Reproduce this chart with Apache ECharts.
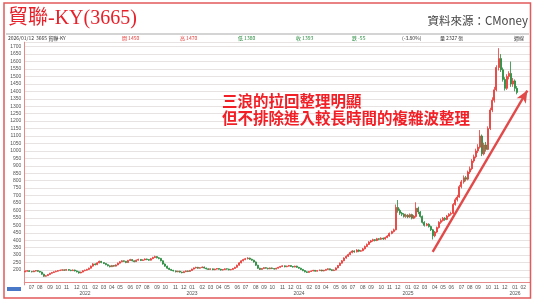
<!DOCTYPE html>
<html><head><meta charset="utf-8">
<script src="https://cdn.jsdelivr.net/npm/echarts@6/dist/echarts.min.js"></script>
<style>html,body{margin:0;padding:0;background:#fff}#c{width:539px;height:304px}</style>
</head><body><div id="c"></div>
<script>
// Weekly candles [open, close, low, high], first week starts 2021-06-14
const startWeek = '2021-06-14';
const k2021 = [
[188,192,185,197],[192,195,189,199],[195,190,187,198],[190,188,184,194],[188,193,186,196],[193,196,190,200],[196,191,188,199],[191,186,182,194],
[186,172,168,189],[172,158,154,175],[158,162,155,166],[162,170,160,173],[170,178,168,181],[178,183,175,187],[183,188,180,191],[188,192,185,196],
[192,196,189,199],[196,199,193,203],[199,201,195,205],[201,198,194,204],[198,203,196,207],[203,199,195,206],[199,196,192,202],[196,200,193,204],
[200,194,190,203],[194,188,184,197],[188,180,176,191],[180,186,178,189],[186,195,184,198]];
const k2022 = [
[195,199,192,203],[199,204,196,208],[204,212,201,216],[212,226,210,230],[226,241,223,246],[241,236,231,245],[236,248,233,252],[248,258,245,263],
[258,250,246,261],[250,244,240,253],[244,236,232,247],[236,228,224,239],[228,222,218,231],[222,230,220,234],[230,226,222,233],[226,234,224,238],
[234,246,232,250],[246,255,243,259],[255,262,252,266],[262,258,254,265],[258,250,246,261],[250,264,248,268],[264,270,261,275],[270,262,258,273],
[262,256,252,265],[256,266,254,270],[266,271,263,276],[271,264,260,274],[264,268,261,272],[268,274,265,278],[274,270,266,277],[270,266,262,273],
[266,276,264,281],[276,284,273,289],[284,290,280,296],[290,282,278,293],[282,278,272,286],[278,262,258,281],[262,240,236,265],[240,226,222,244],
[226,212,208,229],[212,204,200,215],[204,198,194,207],[198,194,190,201],[194,188,184,197],[188,192,185,195],[192,186,182,195],[186,182,178,189],
[182,189,180,192],[189,194,186,197],[194,190,186,197],[190,197,188,200]];
const k2023 = [
[197,206,195,209],[206,214,203,217],[214,218,210,222],[218,212,208,221],[212,216,209,219],[216,220,213,224],[220,213,210,223],[213,208,204,216],
[208,204,200,211],[204,208,201,211],[208,202,199,210],[202,206,199,209],[206,210,203,213],[210,205,202,212],[205,200,196,208],[200,203,197,206],
[203,208,200,211],[208,206,202,211],[206,201,198,209],[201,204,198,207],[204,210,202,214],[210,218,208,222],[218,232,216,236],[232,248,230,252],
[248,262,245,266],[262,270,258,275],[270,276,266,281],[276,280,271,286],[280,272,268,283],[272,266,262,276],[266,254,250,269],[254,232,228,257],
[232,212,208,235],[212,204,200,215],[204,210,202,213],[210,216,207,219],[216,212,209,219],[212,208,204,215],[208,214,206,217],[214,210,206,217],
[210,206,202,213],[206,212,204,215],[212,218,210,221],[218,224,215,227],[224,228,220,232],[228,222,218,231],[222,226,219,229],[226,230,223,234],
[230,224,220,233],[224,220,216,227],[220,226,218,229],[226,218,214,229]];
const k2024 = [
[218,212,208,221],[212,204,200,215],[204,196,192,207],[196,188,184,199],[188,184,180,191],[184,190,182,193],[190,194,187,197],[194,198,191,201],
[198,192,189,200],[192,196,190,199],[196,200,193,203],[200,194,191,202],[194,198,191,201],[198,204,196,207],[204,208,201,212],[208,202,199,210],
[202,196,193,205],[196,200,193,204],[200,214,198,218],[214,230,212,234],[230,246,227,250],[246,262,243,267],[262,280,259,285],[280,292,276,298],
[292,304,288,310],[304,318,300,324],[318,328,312,334],[328,322,316,332],[322,334,318,340],[334,326,320,338],[326,330,322,335],[330,342,326,348],
[342,358,338,364],[358,372,354,378],[372,388,368,394],[388,396,382,402],[396,404,390,410],[404,398,392,408],[398,410,394,416],[410,406,400,414],
[406,414,402,420],[414,408,402,418],[408,418,404,424],[418,428,414,434],[428,446,424,452],[446,458,440,464],[458,470,452,478],[470,620,466,640],
[620,600,585,670],[600,582,570,612],[582,575,562,590],[575,560,552,582]];
const k2025 = [
[560,568,550,578],[568,556,548,575],[556,572,550,580],[572,548,540,578],[548,562,542,570],[560,615,552,655],[615,590,575,625],[590,560,552,596],
[560,520,512,566],[520,500,492,528],[500,508,494,516],[508,492,485,514],[492,470,462,498],[470,430,405,476],[430,455,420,462],[455,485,448,492],
[485,520,478,528],[520,532,510,545],[532,548,525,556],[548,540,530,555],[540,562,535,570],[562,575,555,582],[575,580,565,592],[580,640,576,650],
[640,672,632,685],[672,690,660,705],[690,760,685,772],[760,792,748,805],[792,820,780,835],[820,810,795,832],[810,858,802,868],[858,880,845,895],
[880,932,870,945],[932,960,920,975],[960,1000,950,1015],[1000,1025,985,1045],[1025,1100,1015,1140],[1100,980,965,1110],[980,1040,970,1055],[1040,1010,995,1060],
[1010,1150,1005,1165],[1150,1275,1140,1290],[1275,1340,1260,1360],[1340,1410,1325,1430],[1410,1560,1400,1575],[1560,1620,1540,1690],[1620,1545,1530,1650],[1545,1480,1465,1560],
[1480,1420,1405,1495],[1420,1500,1410,1515],[1500,1520,1480,1535],[1520,1450,1430,1600],[1450,1470,1430,1490]];
const k2026 = [[1470,1420,1400,1480],[1420,1393,1380,1435]];
const padWeeks = 6;
const trendArrow = {fromWeek:198, fromValue:322, toWeek:244, toValue:1405};
const headerItems = [
  ['2026/01/12','#333'],['3665 貿聯-KY','#333'],['開 1450','#e53935'],['高 1470','#e53935'],['低 1380','#23883a'],
  ['收 1393','#23883a'],['跌 -55','#23883a'],['(-3.80%)','#333'],['量 2327 張','#333'],['週線','#333']];
const headerX = [8,36,122,180,238,296,352,402,440,514];

const weeks = [].concat(k2021,k2022,k2023,k2024,k2025,k2026);
const cats = [];
const d0 = new Date(startWeek + 'T00:00:00Z').getTime();
for (let i = 0; i < weeks.length + padWeeks; i++) {
  cats.push(new Date(d0 + i * 7 * 864e5).toISOString().slice(0, 10));
}
const isMonthStart = (i, v) => +String(v).slice(8, 10) <= 7;

const chart = echarts.init(document.getElementById('c'), null, {renderer:'canvas'});
const graphics = [
  {type:'rect', shape:{x:4,y:3,width:526.5,height:295}, style:{fill:'none', stroke:'#e25a5a', lineWidth:1.5}, z:10},
  {type:'rect', shape:{x:6,y:33,width:523,height:2}, style:{fill:'#d4d4d4'}},
  {type:'text', x:8, y:19, style:{text:'貿聯-KY(3665)', font:'20px "Liberation Serif","Noto Sans CJK TC",serif', fill:'#e8202a', verticalAlign:'middle'}},
  {type:'text', x:528, y:21, style:{text:'資料來源：CMoney', font:'11.5px "Noto Sans CJK TC","Noto Sans",sans-serif', fill:'#444', align:'right', verticalAlign:'middle'}},
  {type:'text', x:222, y:101.5, style:{text:'三浪的拉回整理明顯', font:'bold 15.5px "Noto Sans CJK TC",sans-serif', fill:'#f21f26', verticalAlign:'middle'}, z:20},
  {type:'text', x:222, y:118.5, style:{text:'但不排除進入較長時間的複雜波整理', font:'bold 15.5px "Noto Sans CJK TC",sans-serif', fill:'#f21f26', verticalAlign:'middle'}, z:20},
  {type:'rect', shape:{x:7,y:287,width:14,height:4}, style:{fill:'#4a78c8'}}
];
headerItems.forEach((h, i) => graphics.push({type:'text', x:headerX[i], y:38, style:{text:h[0], font:'5px "Noto Sans CJK TC",sans-serif', fill:h[1], verticalAlign:'middle'}}));

chart.setOption({
  animation:false,
  backgroundColor:'#fff',
  grid:{left:24.3, right:8.6, top:42.2, bottom:19.1},
  xAxis:{type:'category', data:cats, boundaryGap:true, offset:-3,
    axisLine:{lineStyle:{color:'#e58a8a'}},
    axisTick:{interval:isMonthStart, length:2, lineStyle:{color:'#e58a8a'}},
    axisLabel:{interval:isMonthStart, fontSize:5, color:'#555', margin:3, lineHeight:6,
      formatter:v => { const m = v.slice(5,7); return m === '01' ? m + '\n' + v.slice(0,4) : m; }},
    splitLine:{show:false}},
  yAxis:{type:'value', min:100, max:1730, interval:50,
    axisLine:{show:true, lineStyle:{color:'#e58a8a'}}, axisTick:{show:false},
    axisLabel:{fontSize:5, color:'#555', margin:3,
      formatter:v => (v % 50 === 0 && v >= 200 && v <= 1700) ? String(v) : ''},
    splitLine:{lineStyle:{color:'#e2dcdc', width:0.8}, showMinLine:false}},
  series:[{type:'candlestick', data:weeks, barWidth:1.5,
    itemStyle:{color:'#e53935', color0:'#23883a', borderColor:'#e53935', borderColor0:'#23883a', borderWidth:0.8},
    markLine:{silent:true, symbol:['none','arrow'], symbolSize:[8,12], label:{show:false},
      lineStyle:{color:'#e24a4a', width:2.4, type:'solid'},
      data:[[{coord:[cats[trendArrow.fromWeek], trendArrow.fromValue]},{coord:[cats[trendArrow.toWeek], trendArrow.toValue]}]]}
  }],
  graphic:graphics
});
</script></body></html>
